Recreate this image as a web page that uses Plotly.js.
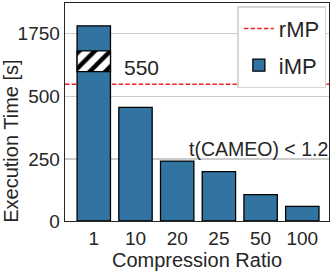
<!DOCTYPE html>
<html>
<head>
<meta charset="utf-8">
<script src="https://cdn.plot.ly/plotly-3.0.1.min.js"></script>
<style>html,body{margin:0;padding:0;background:#fff;}#chart{width:333px;height:273px;}</style>
</head>
<body>
<div id="chart"></div>
<script>
// Data
const categories = ['1', '10', '20', '25', '50', '100'];
const iMP = [1780, 457, 241, 199, 106, 59];   // execution time [s]
const rMP = 550;                               // reference line [s]
const yTickValues = [0, 250, 500, 1750];
const breakLow = 601;     // axis break begins (real units)
const breakHighReal = 1679; // axis break ends (real units)

// broken-axis mapping: values above the break are shifted down
const BREAK_SHIFT = 995;
function toAxis(v) { return v >= 1000 ? v - BREAK_SHIFT : v; }

const font = "Liberation Sans, Arial, Helvetica, sans-serif";
const dark = '#262626';
const blue = '#3274a1';

const bars = {
  type: 'bar', x: categories, y: iMP.map(toAxis), name: 'iMP',
  marker: {color: blue, line: {color: '#000', width: 1.3}},
  width: 0.8, legendrank: 2, legendgroup: 'b', hoverinfo: 'skip'
};
const hatch = {
  type: 'bar', x: [categories[0]], base: [breakLow],
  y: [toAxis(breakHighReal) - breakLow], showlegend: false,
  marker: {color: 'white', line: {color: '#000', width: 1.3},
    pattern: {shape: '/', fgcolor: '#000', bgcolor: 'white', size: 11, solidity: 0.4, fillmode: 'replace'}},
  width: 0.8, hoverinfo: 'skip'
};

const layout = {
  width: 333, height: 273,
  margin: {l: 65.3, r: 3.7, t: 3.3, b: 52.3},
  paper_bgcolor: 'white', plot_bgcolor: 'white',
  font: {family: font, color: dark, size: 19},
  barmode: 'overlay',
  showlegend: true,
  xaxis: {
    type: 'category', range: [-0.69, 5.64],
    showgrid: false, showline: true, mirror: true, linecolor: dark, linewidth: 1.3,
    ticks: '', tickfont: {size: 19, color: dark},
    title: {text: 'Compression Ratio', font: {size: 20, color: dark}, standoff: 4}
  },
  yaxis: {
    range: [0, 877], showgrid: true, gridcolor: '#cccccc', gridwidth: 1.5,
    zeroline: false, showline: true, mirror: true, linecolor: dark, linewidth: 1.3,
    tickvals: yTickValues.map(toAxis), ticktext: yTickValues.map(String),
    ticks: '', tickfont: {size: 19, color: dark}
  },
  legend: {
    x: 0.99, y: 0.985, xanchor: 'right', yanchor: 'top',
    bgcolor: 'white', bordercolor: '#d6d6d6', borderwidth: 1.5,
    font: {size: 22, color: dark}, traceorder: 'grouped', tracegroupgap: 5,
    entrywidth: 52
  },
  shapes: [{
    type: 'line', xref: 'paper', x0: 0, x1: 1, yref: 'y', y0: rMP, y1: rMP,
    line: {color: '#ee2222', width: 1.5, dash: '4.5px,2.2px'}, layer: 'below',
    showlegend: true, name: 'rMP', legendrank: 1, legendgroup: 'a'
  }],
  annotations: [
    {text: 'Execution Time [s]', textangle: -90, xref: 'paper', yref: 'paper',
     x: (11 - 65.3) / 264, y: 1 - (141 - 3.3) / 217.4, xanchor: 'center', yanchor: 'middle',
     showarrow: false, font: {size: 20, color: dark}},
    {text: String(rMP), xref: 'paper', yref: 'paper',
     x: (141.8 - 65.3) / 264, y: 1 - (67.5 - 3.3) / 217.4, xanchor: 'center', yanchor: 'middle',
     showarrow: false, font: {size: 21, color: dark}},
    {text: 't(CAMEO) < 1.2', xref: 'paper', yref: 'paper',
     x: (259 - 65.3) / 264, y: 1 - (149 - 3.3) / 217.4, xanchor: 'center', yanchor: 'middle',
     showarrow: false, font: {size: 19.5, color: dark}}
  ]
};

Plotly.newPlot('chart', [bars, hatch], layout, {displayModeBar: false, staticPlot: true});
</script>
</body>
</html>
